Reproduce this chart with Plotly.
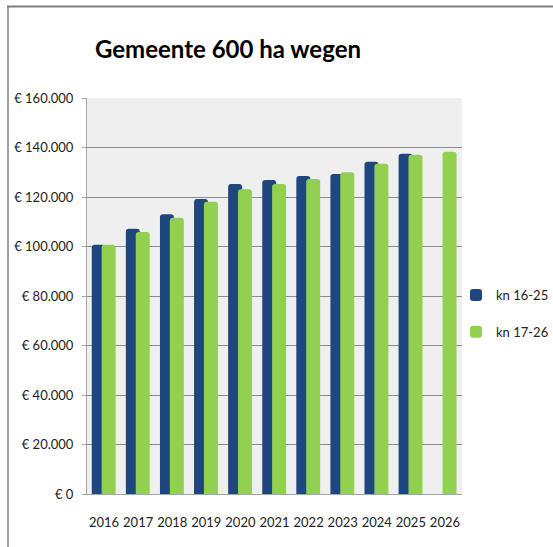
import plotly.graph_objects as go

years = ["2016", "2017", "2018", "2019", "2020", "2021", "2022", "2023", "2024", "2025", "2026"]
kn_16_25 = [100700, 107200, 113000, 119200, 125300, 126900, 128500, 129300, 134200, 137500, None]
kn_17_26 = [100700, 105900, 111650, 118100, 123100, 125300, 127300, 130000, 133400, 137100, 138300]
tick_vals = [0, 20000, 40000, 60000, 80000, 100000, 120000, 140000, 160000]
tick_text = ["€ 0", "€ 20.000", "€ 40.000", "€ 60.000", "€ 80.000",
             "€ 100.000", "€ 120.000", "€ 140.000", "€ 160.000"]

FONT = "Lato, Roboto, sans-serif"

W, H = 553, 547
L, R, T, B = 87, 91, 98, 53
pw, ph = W - L - R, H - T - B

def px(x):
    return (x - L) / pw

def py(y):
    return (H - B - y) / ph

fig = go.Figure()
fig.add_trace(go.Bar(
    x=years, y=kn_16_25, name="kn 16-25",
    marker=dict(color="#1f477f", line=dict(width=0)),
    offset=-0.36, width=0.41, legendgroup="a",
))
fig.add_trace(go.Bar(
    x=years, y=kn_17_26, name="kn 17-26",
    marker=dict(color="#92d050", line=dict(width=0)),
    offset=-0.07, width=0.41, legendgroup="b",
))

fig.update_layout(
    width=W, height=H,
    margin=dict(l=L, r=R, t=T, b=B, autoexpand=False),
    paper_bgcolor="white",
    plot_bgcolor="#efefef",
    barmode="overlay",
    barcornerradius=3,
    font=dict(family=FONT, size=13, color="#222"),
    title=dict(
        text="<b>Gemeente 600 ha wegen</b>",
        font=dict(family=FONT, size=24, color="black"),
        x=px(228), xanchor="center", xref="paper",
        y=1 - 50 / H, yanchor="middle",
    ),
    showlegend=True,
    legend=dict(
        x=px(456), y=py(280), xanchor="left", yanchor="top",
        bgcolor="rgba(0,0,0,0)",
        font=dict(family=FONT, size=13, color="#222"),
        traceorder="grouped", tracegroupgap=17,
        itemwidth=30,
    ),
    xaxis=dict(
        type="category",
        showgrid=False,
        showline=True, linecolor="#a6a6a6", linewidth=1,
        ticks="", tickangle=0,
        tickfont=dict(family=FONT, size=13, color="#222"),
        ticklabelstandoff=16,
    ),
    yaxis=dict(
        range=[0, 160000],
        tickvals=tick_vals, ticktext=tick_text,
        showgrid=True, gridcolor="#8c8c8c", gridwidth=1,
        showline=True, linecolor="#a6a6a6", linewidth=1,
        ticks="outside", ticklen=4, tickcolor="#a6a6a6",
        tickfont=dict(family=FONT, size=13, color="#222"),
        ticklabelstandoff=6,
        zeroline=False,
    ),
    shapes=[
        dict(type="line", xref="paper", yref="paper",
             x0=px(7), x1=px(553), y0=py(6.5), y1=py(6.5),
             line=dict(color="#808080", width=2)),
        dict(type="line", xref="paper", yref="paper",
             x0=px(8), x1=px(8), y0=py(6), y1=py(547),
             line=dict(color="#808080", width=1.5)),
    ],
)

fig.write_html("out.html", config={"displayModeBar": False},
               post_script="document.body.style.margin='0';")
